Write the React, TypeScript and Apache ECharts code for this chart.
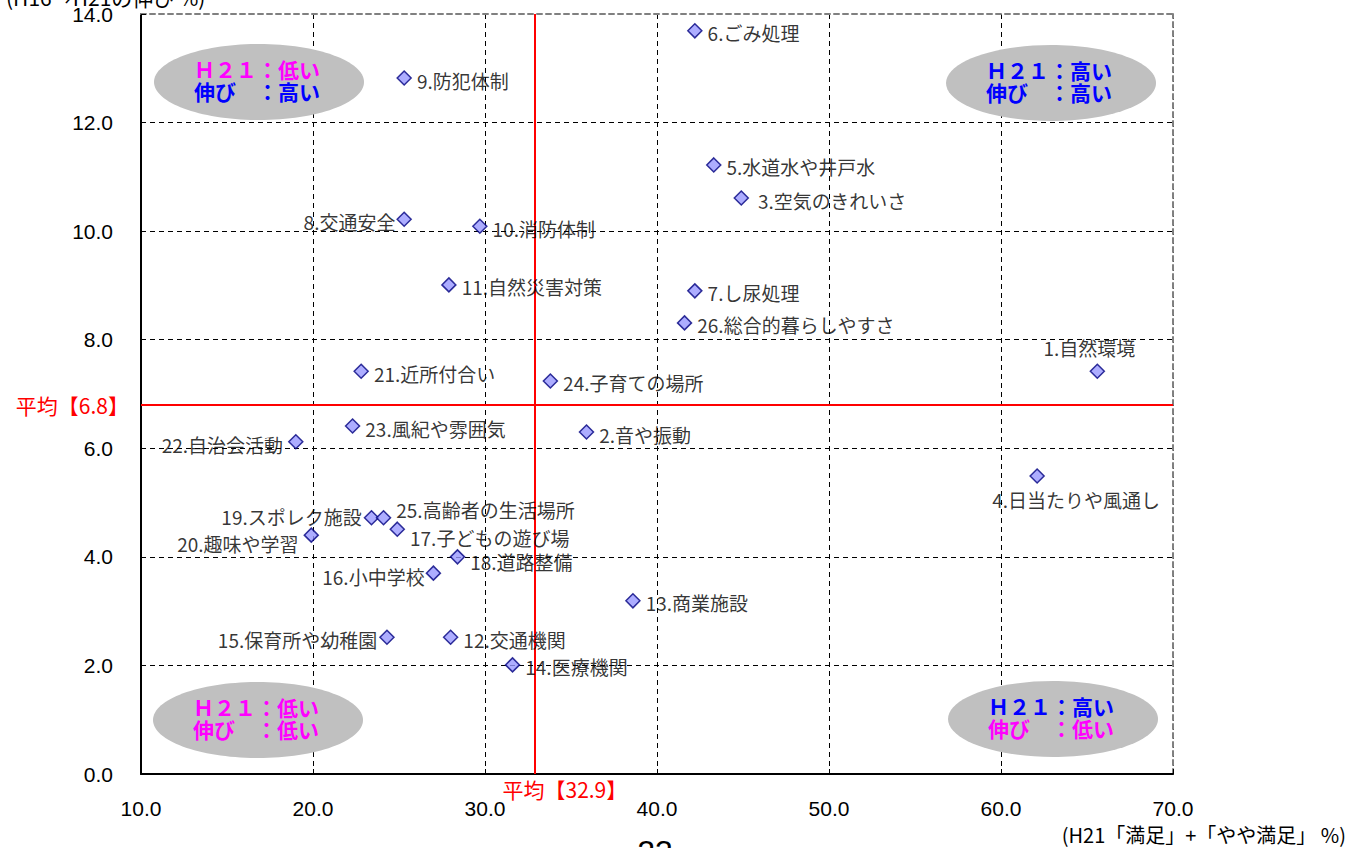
import React, { useEffect, useRef } from "react";
import * as echarts from "echarts";

const itemNames = [
  "1.自然環境", "2.音や振動", "3.空気のきれいさ", "4.日当たりや風通し", "5.水道水や井戸水",
  "6.ごみ処理", "7.し尿処理", "8.交通安全", "9.防犯体制", "10.消防体制",
  "11.自然災害対策", "12.交通機関", "13.商業施設", "14.医療機関", "15.保育所や幼稚園",
  "16.小中学校", "17.子どもの遊び場", "18.道路整備", "19.スポレク施設", "20.趣味や学習",
  "21.近所付合い", "22.自治会活動", "23.風紀や雰囲気", "24.子育ての場所", "25.高齢者の生活場所",
  "26.総合的暮らしやすさ",
];
// H21「満足」+「やや満足」 %
const satisfactionH21 = [
  65.6, 35.9, 44.9, 62.1, 43.3,
  42.2, 42.2, 25.3, 25.3, 29.7,
  27.9, 28.0, 38.6, 31.6, 24.3,
  27.0, 24.9, 28.4, 23.4, 19.9,
  22.8, 19.0, 22.3, 33.8, 24.1,
  41.6,
];
// H16→H21の伸び %
const growth = [
  7.42, 6.30, 10.61, 5.49, 11.22,
  13.69, 8.90, 10.22, 12.82, 10.09,
  9.01, 2.52, 3.19, 2.01, 2.52,
  3.70, 4.51, 4.00, 4.72, 4.40,
  7.42, 6.12, 6.41, 7.24, 4.72,
  8.31,
];
const meanSatisfaction = 32.9;
const meanGrowth = 6.8;
const xTicks = { min: 10, max: 70, interval: 10 };
const yTicks = { min: 0, max: 14, interval: 2 };

// label placement (style only)
const labelPlacement: Record<number, { position: string; offset: number[] }> = {
  0: { position: "top", offset: [-8, -1] },
  2: { position: "right", offset: [4, 2] },
  3: { position: "bottom", offset: [39, 1] },
  7: { position: "left", offset: [4, 2] },
  14: { position: "left", offset: [3, 2] },
  15: { position: "left", offset: [4, 3] },
  16: { position: "right", offset: [0, 8] },
  17: { position: "right", offset: [0, 5] },
  18: { position: "left", offset: [3, -1] },
  19: { position: "left", offset: [0, 8] },
  21: { position: "left", offset: [0, 3] },
  24: { position: "right", offset: [0, -8] },
};

const LABEL_FONT = "'Noto Sans CJK JP', 'Noto Sans', sans-serif";
const NUM_FONT = "'Liberation Sans', Arial, sans-serif";

const quadrants = [
  { cx: 259, cy: 82, l1: "Ｈ２１：低い", c1: "#FF00FF", l2: "伸び　：高い", c2: "#0000FF" },
  { cx: 1051, cy: 83, l1: "Ｈ２１：高い", c1: "#0000FF", l2: "伸び　：高い", c2: "#0000FF" },
  { cx: 258, cy: 720, l1: "Ｈ２１：低い", c1: "#FF00FF", l2: "伸び　：低い", c2: "#FF00FF" },
  { cx: 1053, cy: 719, l1: "Ｈ２１：高い", c1: "#0000FF", l2: "伸び　：低い", c2: "#FF00FF" },
];

export default function App() {
  const ref = useRef<HTMLDivElement>(null);
  useEffect(() => {
    document.body.style.margin = "0";
    const chart = echarts.init(ref.current!, undefined, { renderer: "svg" });
    const data = itemNames.map((name, i) => {
      const p = labelPlacement[i] || { position: "right", offset: [0, 2] };
      return {
        name,
        value: [satisfactionH21[i], growth[i]],
        label: { position: p.position, offset: p.offset },
      };
    });
    const graphics: any[] = [];
    quadrants.forEach((q) => {
      graphics.push({
        type: "ellipse",
        shape: { cx: q.cx, cy: q.cy, rx: 105, ry: 38 },
        style: { fill: "#C0C0C0" },
        z: 1,
      });
      graphics.push({
        type: "text",
        x: q.cx - 2,
        y: q.cy - 13,
        style: {
          text: q.l1, fill: q.c1, font: `bold 21px ${LABEL_FONT}`,
          textAlign: "center", textVerticalAlign: "middle",
        },
        z: 2,
      });
      graphics.push({
        type: "text",
        x: q.cx - 2,
        y: q.cy + 9,
        style: {
          text: q.l2, fill: q.c2, font: `bold 21px ${LABEL_FONT}`,
          textAlign: "center", textVerticalAlign: "middle",
        },
        z: 2,
      });
    });
    graphics.push({
      type: "text",
      x: 6,
      y: -3,
      style: { text: "(H16→H21の伸び %)", fill: "#000", font: `21px ${LABEL_FONT}`, textVerticalAlign: "middle" },
    });
    graphics.push({
      type: "text",
      x: 1346,
      y: 834,
      style: { text: "(H21「満足」+「やや満足」 %)", fill: "#000", font: `20px ${LABEL_FONT}`, textAlign: "right", textVerticalAlign: "middle" },
    });
    graphics.push({
      type: "text",
      x: 655,
      y: 836,
      style: { text: "23", fill: "#000", font: `32px ${NUM_FONT}`, textAlign: "center", textVerticalAlign: "top" },
    });

    const gridLine = { show: true, lineStyle: { color: "#000", type: [5, 4], width: 1 } };
    const option: any = {
      animation: false,
      backgroundColor: "#fff",
      grid: { left: 141, right: 186, top: 14, bottom: 74, containLabel: false },
      xAxis: [
        {
          type: "value", ...xTicks,
          axisLine: { show: true, onZero: false, lineStyle: { color: "#000", width: 2 } },
          axisTick: { show: true, inside: true, length: 5, lineStyle: { color: "#000" } },
          axisLabel: { color: "#000", fontSize: 21, fontFamily: "Liberation Sans", margin: 24, formatter: (v: number) => v.toFixed(1) },
          splitLine: gridLine,
        },
        {
          type: "value", ...xTicks, position: "top",
          axisLine: { show: true, onZero: false, lineStyle: { color: "#808080", width: 2, type: [5, 4] } },
          axisTick: { show: false }, axisLabel: { show: false }, splitLine: { show: false },
        },
      ],
      yAxis: [
        {
          type: "value", ...yTicks,
          axisLine: { show: true, onZero: false, lineStyle: { color: "#000", width: 2 } },
          axisTick: { show: true, inside: true, length: 5, lineStyle: { color: "#000" } },
          axisLabel: { color: "#000", fontSize: 21, fontFamily: "Liberation Sans", margin: 28, formatter: (v: number) => v.toFixed(1) },
          splitLine: gridLine,
        },
        {
          type: "value", ...yTicks, position: "right",
          axisLine: { show: true, onZero: false, lineStyle: { color: "#808080", width: 2, type: [5, 4] } },
          axisTick: { show: false }, axisLabel: { show: false }, splitLine: { show: false },
        },
      ],
      graphic: graphics,
      series: [
        {
          type: "scatter",
          xAxisIndex: 0,
          yAxisIndex: 0,
          symbol: "diamond",
          symbolSize: 14,
          z: 5,
          itemStyle: { color: "#9999FF", borderColor: "#000080", borderWidth: 1.5 },
          label: {
            show: true,
            formatter: "{b}",
            color: "#000",
            fontSize: 19,
            fontFamily: LABEL_FONT,
          },
          data,
          markLine: {
            silent: true,
            symbol: "none",
            animation: false,
            lineStyle: { color: "#FF0000", width: 2, type: "solid" },
            data: [
              { xAxis: meanSatisfaction, label: { show: false } },
              {
                yAxis: meanGrowth,
                label: {
                  show: true, position: "start", distance: 12,
                  formatter: `平均【${meanGrowth.toFixed(1)}】`,
                  color: "#FF0000", fontSize: 21, fontFamily: LABEL_FONT,
                },
              },
            ],
          },
        },
      ],
    };
    chart.setOption(option);
    // x-mean label placed via the axis scale
    const px = chart.convertToPixel({ xAxisIndex: 0 }, meanSatisfaction) as number;
    const py = chart.convertToPixel({ yAxisIndex: 0 }, yTicks.min) as number;
    chart.setOption({
      graphic: [
        ...graphics,
        {
          type: "text",
          x: px + 30,
          y: py + 15,
          style: {
            text: `平均【${meanSatisfaction.toFixed(1)}】`, fill: "#FF0000",
            font: `21px ${LABEL_FONT}`, textAlign: "center", textVerticalAlign: "middle",
          },
          z: 3,
        },
      ],
    });
    return () => chart.dispose();
  }, []);
  return <div ref={ref} style={{ width: 1359, height: 848 }} />;
}
